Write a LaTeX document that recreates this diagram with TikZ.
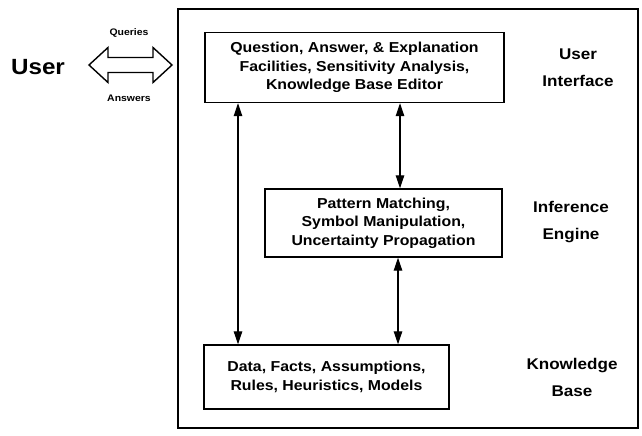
\documentclass[tikz,border=0pt]{standalone}
\usepackage{fontspec}
\setmainfont{Liberation Sans}[FakeStretch=1.1]
\usetikzlibrary{arrows.meta}
\tikzset{
  x=1pt, y=-1pt,
  outerbox/.style={draw, line width=2.4pt},
  compbox/.style={draw, line width=1.4pt, align=center, inner sep=0pt,
    font=\bfseries\fontsize{14.4}{18.5}\selectfont},
  layerlabel/.style={align=center, font=\bfseries\fontsize{15.5}{27}\selectfont},
  smalllabel/.style={font=\bfseries\fontsize{9.5}{11}\selectfont},
  link/.style={line width=1.2pt, {Triangle[length=13pt,width=8.5pt]}-{Triangle[length=13pt,width=8.5pt]}},
  fatarrow/.style={draw, line width=1.4pt, line join=miter}
}
\begin{document}
\begin{tikzpicture}
\useasboundingbox (0,0) rectangle (642,436);
% outer frame
\draw[outerbox] (178,9) rectangle (638,428);
% component boxes
\node[compbox, minimum width=299pt, minimum height=70pt] (ui) at (354.5,67.5)
  {Question, Answer, \& Explanation\\Facilities, Sensitivity Analysis,\\Knowledge Base Editor};
\node[compbox, minimum width=237pt, minimum height=68pt] (ie) at (383.5,223)
  {Pattern Matching,\\Symbol Manipulation,\\Uncertainty Propagation};
\node[compbox, minimum width=245pt, minimum height=64pt] (kb) at (326.5,377)
  {Data, Facts, Assumptions,\\Rules, Heuristics, Models};
% layer labels
\node[layerlabel] (lui) at (578,68) {User\\Interface};
\node[layerlabel] (lie) at (571,222) {Inference\\Engine};
\node[layerlabel] (lkb) at (572,377) {Knowledge\\Base};
% user side
\node[font=\bfseries\fontsize{22}{24}\selectfont] (user) at (38,67) {User};
\coordinate (qa) at (130.5,65);
\draw[fatarrow, shift={(qa)}] (-41.5,0) -- (-22.5,-17.5) -- (-22.5,-7.5) -- (22.5,-7.5)
  -- (22.5,-17.5) -- (41.5,0) -- (22.5,17.5) -- (22.5,7.5) -- (-22.5,7.5)
  -- (-22.5,17.5) -- cycle;
\node[smalllabel] (queries) at (129,33) {Queries};
\node[smalllabel] (answers) at (129,98) {Answers};
% connectors
\coordinate (cl) at (238,0);
\coordinate (cr) at (400,0);
\coordinate (cr2) at (398,0);
\draw[link] (ui.south -| cl) -- (kb.north -| cl);
\draw[link] (ui.south -| cr) -- (ie.north -| cr);
\draw[link] (ie.south -| cr2) -- (kb.north -| cr2);
\end{tikzpicture}
\end{document}
